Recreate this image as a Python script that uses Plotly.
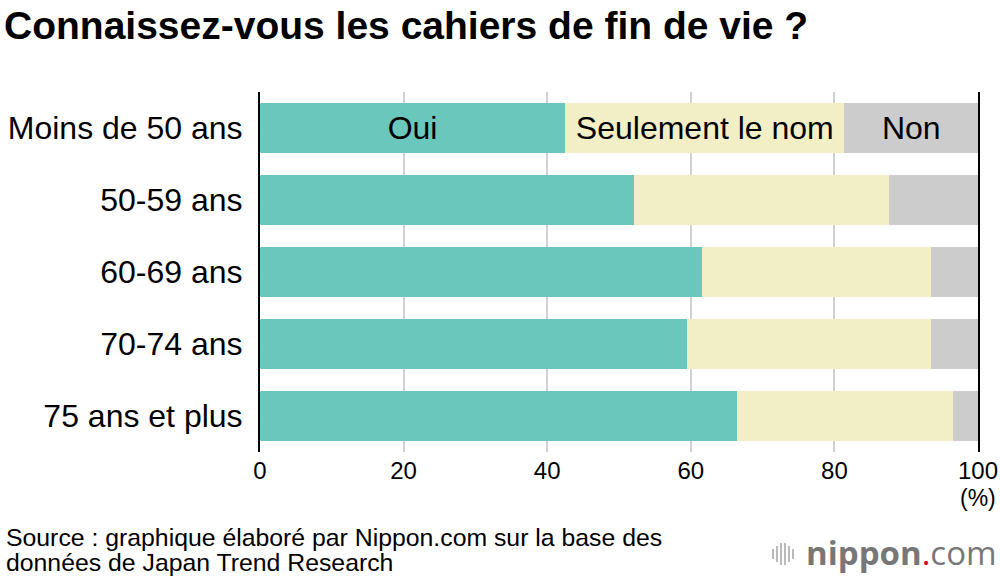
import plotly.graph_objects as go

categories = ["Moins de 50 ans", "50-59 ans", "60-69 ans", "70-74 ans", "75 ans et plus"]
oui = [42.5, 52.1, 61.5, 59.5, 66.5]
seulement = [38.9, 35.5, 32.0, 34.0, 30.0]
non = [18.6, 12.4, 6.5, 6.5, 3.5]
series_names = ["Oui", "Seulement le nom", "Non"]
first_row_labels = ["Oui", "Seulement le nom", "Non"]
xticks = [0, 20, 40, 60, 80, 100]

colors = ["#6AC7BC", "#F2EFC6", "#CCCCCC"]
font = "Liberation Sans, Arial, Helvetica, sans-serif"

fig = go.Figure()
for name, vals, col, lab in zip(series_names, [oui, seulement, non], colors, first_row_labels):
    texts = [lab if i == 0 else "" for i in range(len(categories))]
    fig.add_trace(go.Bar(
        y=categories, x=vals, name=name, orientation="h",
        marker=dict(color=col, line=dict(width=0)),
        text=texts, textposition="inside", insidetextanchor="middle",
        textfont=dict(size=32, color="black", family=font),
        width=0.694, hoverinfo="x+name",
    ))

W, H = 1000, 578
L, R, T, B = 260, 978, 92, 452
def px(x):
    return (x - L) / (R - L)
def py(y):
    return (B - y) / (B - T)

annotations = [
    dict(text="(%)", x=px(998), y=py(498), xref="paper", yref="paper",
         xanchor="right", yanchor="middle", showarrow=False,
         font=dict(size=23, color="black", family=font)),
    dict(text="Source : graphique élaboré par Nippon.com sur la base des",
         x=px(4), y=py(537), xref="paper", yref="paper", xanchor="left", yanchor="middle",
         align="left", showarrow=False,
         font=dict(size=24.8, color="black", family=font)),
    dict(text="données de Japan Trend Research",
         x=px(4), y=py(562), xref="paper", yref="paper", xanchor="left", yanchor="middle",
         align="left", showarrow=False,
         font=dict(size=24.8, color="black", family=font)),
    dict(text="<b>nippon</b><span style='color:#E60012'>.</span>com",
         x=px(999), y=py(552), xref="paper", yref="paper", xanchor="right", yanchor="middle",
         showarrow=False, font=dict(size=33, color="#777777", family="Open Sans, sans-serif")),
]

shapes = []
icon_x = [773, 777, 781, 785, 789, 793]
icon_h = [10, 16, 22, 22, 16, 10]
for xx, hh in zip(icon_x, icon_h):
    shapes.append(dict(type="line", xref="paper", yref="paper",
                       x0=px(xx), x1=px(xx), y0=py(554 - hh / 2), y1=py(554 + hh / 2),
                       line=dict(color="#BBBBBB", width=2)))

fig.update_layout(
    barmode="stack",
    width=W, height=H,
    margin=dict(l=L, r=W - R, t=T, b=H - B, pad=0, autoexpand=False),
    paper_bgcolor="white", plot_bgcolor="white",
    showlegend=False,
    uniformtext=dict(minsize=32, mode="show"),
    title=dict(text="<b>Connaissez-vous les cahiers de fin de vie ?</b>",
               x=0.004, xref="container", xanchor="left",
               y=1 - 25 / H, yref="container", yanchor="middle",
               font=dict(size=39, color="black", family=font)),
    font=dict(family=font, color="black"),
    xaxis=dict(range=[0, 100], tickvals=xticks, ticktext=[str(v) for v in xticks],
               showgrid=True, gridcolor="#D0D0D0", gridwidth=1.5,
               zeroline=False, showline=False, ticks="", automargin=False,
               ticklabelstandoff=2,
               tickfont=dict(size=24, color="black", family=font), fixedrange=True),
    yaxis=dict(autorange="reversed", showline=True, mirror=True, linecolor="black",
               linewidth=2, ticks="", ticklabelstandoff=9, automargin=False,
               tickfont=dict(size=32, color="black", family=font), fixedrange=True),
    annotations=annotations,
    shapes=shapes,
)

fig.write_html("out.html", config={"displayModeBar": False},
               post_script="document.body.style.margin='0';document.body.style.overflow='hidden';")
